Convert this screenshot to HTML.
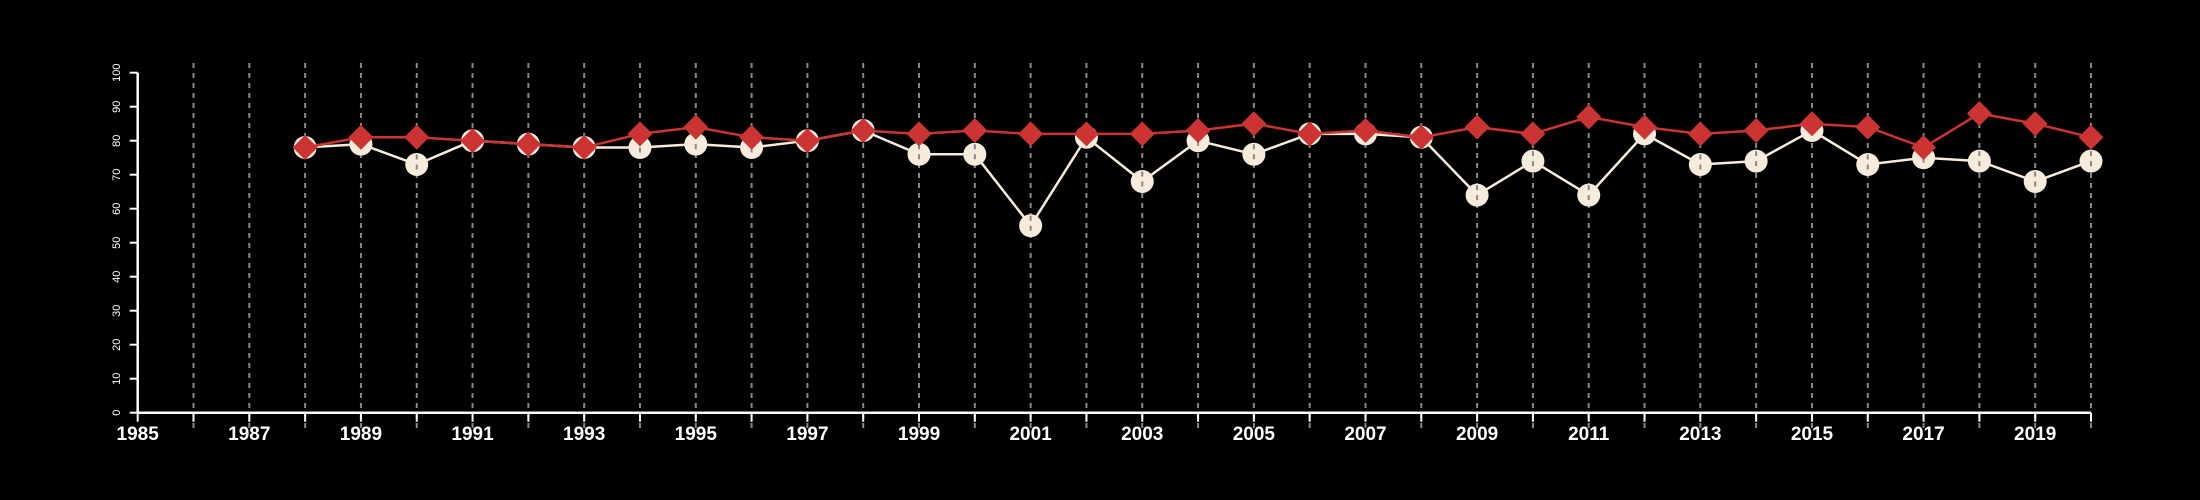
<!DOCTYPE html>
<html><head><meta charset="utf-8"><style>
html,body{margin:0;padding:0;background:#000;}
svg{display:block;font-family:"Liberation Sans",sans-serif;}
</style></head><body>
<svg id="chart" width="2200" height="500" viewBox="0 0 2200 500" xmlns="http://www.w3.org/2000/svg">
<rect width="2200" height="500" fill="#000"/>
<g id="grid"></g>
<g id="axes"></g>
<g id="series"></g>
</svg>
<script>
const years = [1988,1989,1990,1991,1992,1993,1994,1995,1996,1997,1998,1999,2000,2001,2002,2003,2004,2005,2006,2007,2008,2009,2010,2011,2012,2013,2014,2015,2016,2017,2018,2019,2020];
const whiteSeries = [78,79,73,80,79,78,78,79,78,80,83,76,76,55,81,68,80,76,82,82,81,64,74,64,82,73,74,83,73,75,74,68,74];
const redSeries = [78,81,81,80,79,78,82,84,81,80,83,82,83,82,82,82,83,85,82,83,81,84,82,87,84,82,83,85,84,78,88,85,81];
const yTicks = [0,10,20,30,40,50,60,70,80,90,100];
const xMin = 1985, xMax = 2020;

const NS = "http://www.w3.org/2000/svg";
const X0 = 137.7, X1 = 2091, Y0 = 412.7, Y1 = 72.7;
function xs(v){return X0 + (v - xMin) / (xMax - xMin) * (X1 - X0);}
function ys(v){return Y0 - v / 100 * (Y0 - Y1);}
function mk(tag, attrs, parent){const e=document.createElementNS(NS,tag);for(const k in attrs)e.setAttribute(k,attrs[k]);parent.appendChild(e);return e;}
const grid=document.getElementById('grid'), axes=document.getElementById('axes'), series=document.getElementById('series');

for(let yr=xMin+1; yr<=xMax; yr++){
  const g=mk('line',{x1:xs(yr),x2:xs(yr),y1:63,y2:430,stroke:'#888','stroke-width':2,'stroke-dasharray':'5,5'},grid);
  
  
}
const xa=mk('line',{x1:X0,x2:X1,y1:Y0,y2:Y0,stroke:'#fff','stroke-width':2.5},axes);


const ya=mk('line',{x1:X0,x2:X0,y1:Y0,y2:Y1,stroke:'#fff','stroke-width':2.5},axes);


for(let yr=xMin; yr<=xMax; yr++){
  const t=mk('line',{x1:xs(yr),x2:xs(yr),y1:Y0,y2:Y0+9,stroke:'#fff','stroke-width':2},axes);
  
  
  if((yr-xMin)%2===0){
    const l=mk('text',{x:xs(yr),y:440,fill:'#fff','font-size':19,'font-weight':'bold','text-anchor':'middle'},axes);
    l.textContent=yr;
    
    
  }
}
yTicks.forEach(v=>{
  const t=mk('line',{x1:X0-8,x2:X0,y1:ys(v),y2:ys(v),stroke:'#fff','stroke-width':2},axes);
  
  
  const l=mk('text',{x:0,y:0,fill:'#fff','font-size':11,'text-anchor':'middle',transform:`translate(120,${ys(v)}) rotate(-90)`},axes);
  l.textContent=v;
  
  
});
function pts(arr){return years.map((y,i)=>xs(y)+','+ys(arr[i])).join(' ');}
const wl=mk('polyline',{points:pts(whiteSeries),fill:'none',stroke:'#f7ebdb','stroke-width':2.5},series);


years.forEach((y,i)=>{
  const c=mk('circle',{cx:xs(y),cy:ys(whiteSeries[i]),r:11.5,fill:'#f7ebdb'},series);
  
  
  const d=mk('line',{x1:xs(y),x2:xs(y),y1:ys(whiteSeries[i])-10,y2:ys(whiteSeries[i])+10,stroke:'#888','stroke-width':2,'stroke-dasharray':'5,5'},series);
  
  
});
const rl=mk('polyline',{points:pts(redSeries),fill:'none',stroke:'#cc3333','stroke-width':2.5},series);


years.forEach((y,i)=>{
  const cx=xs(y), cy=ys(redSeries[i]), s=12.5;
  const p=mk('polygon',{points:`${cx},${cy-s} ${cx+s},${cy} ${cx},${cy+s} ${cx-s},${cy}`,fill:'#cc3333'},series);
  
  
});
</script>
</body></html>
